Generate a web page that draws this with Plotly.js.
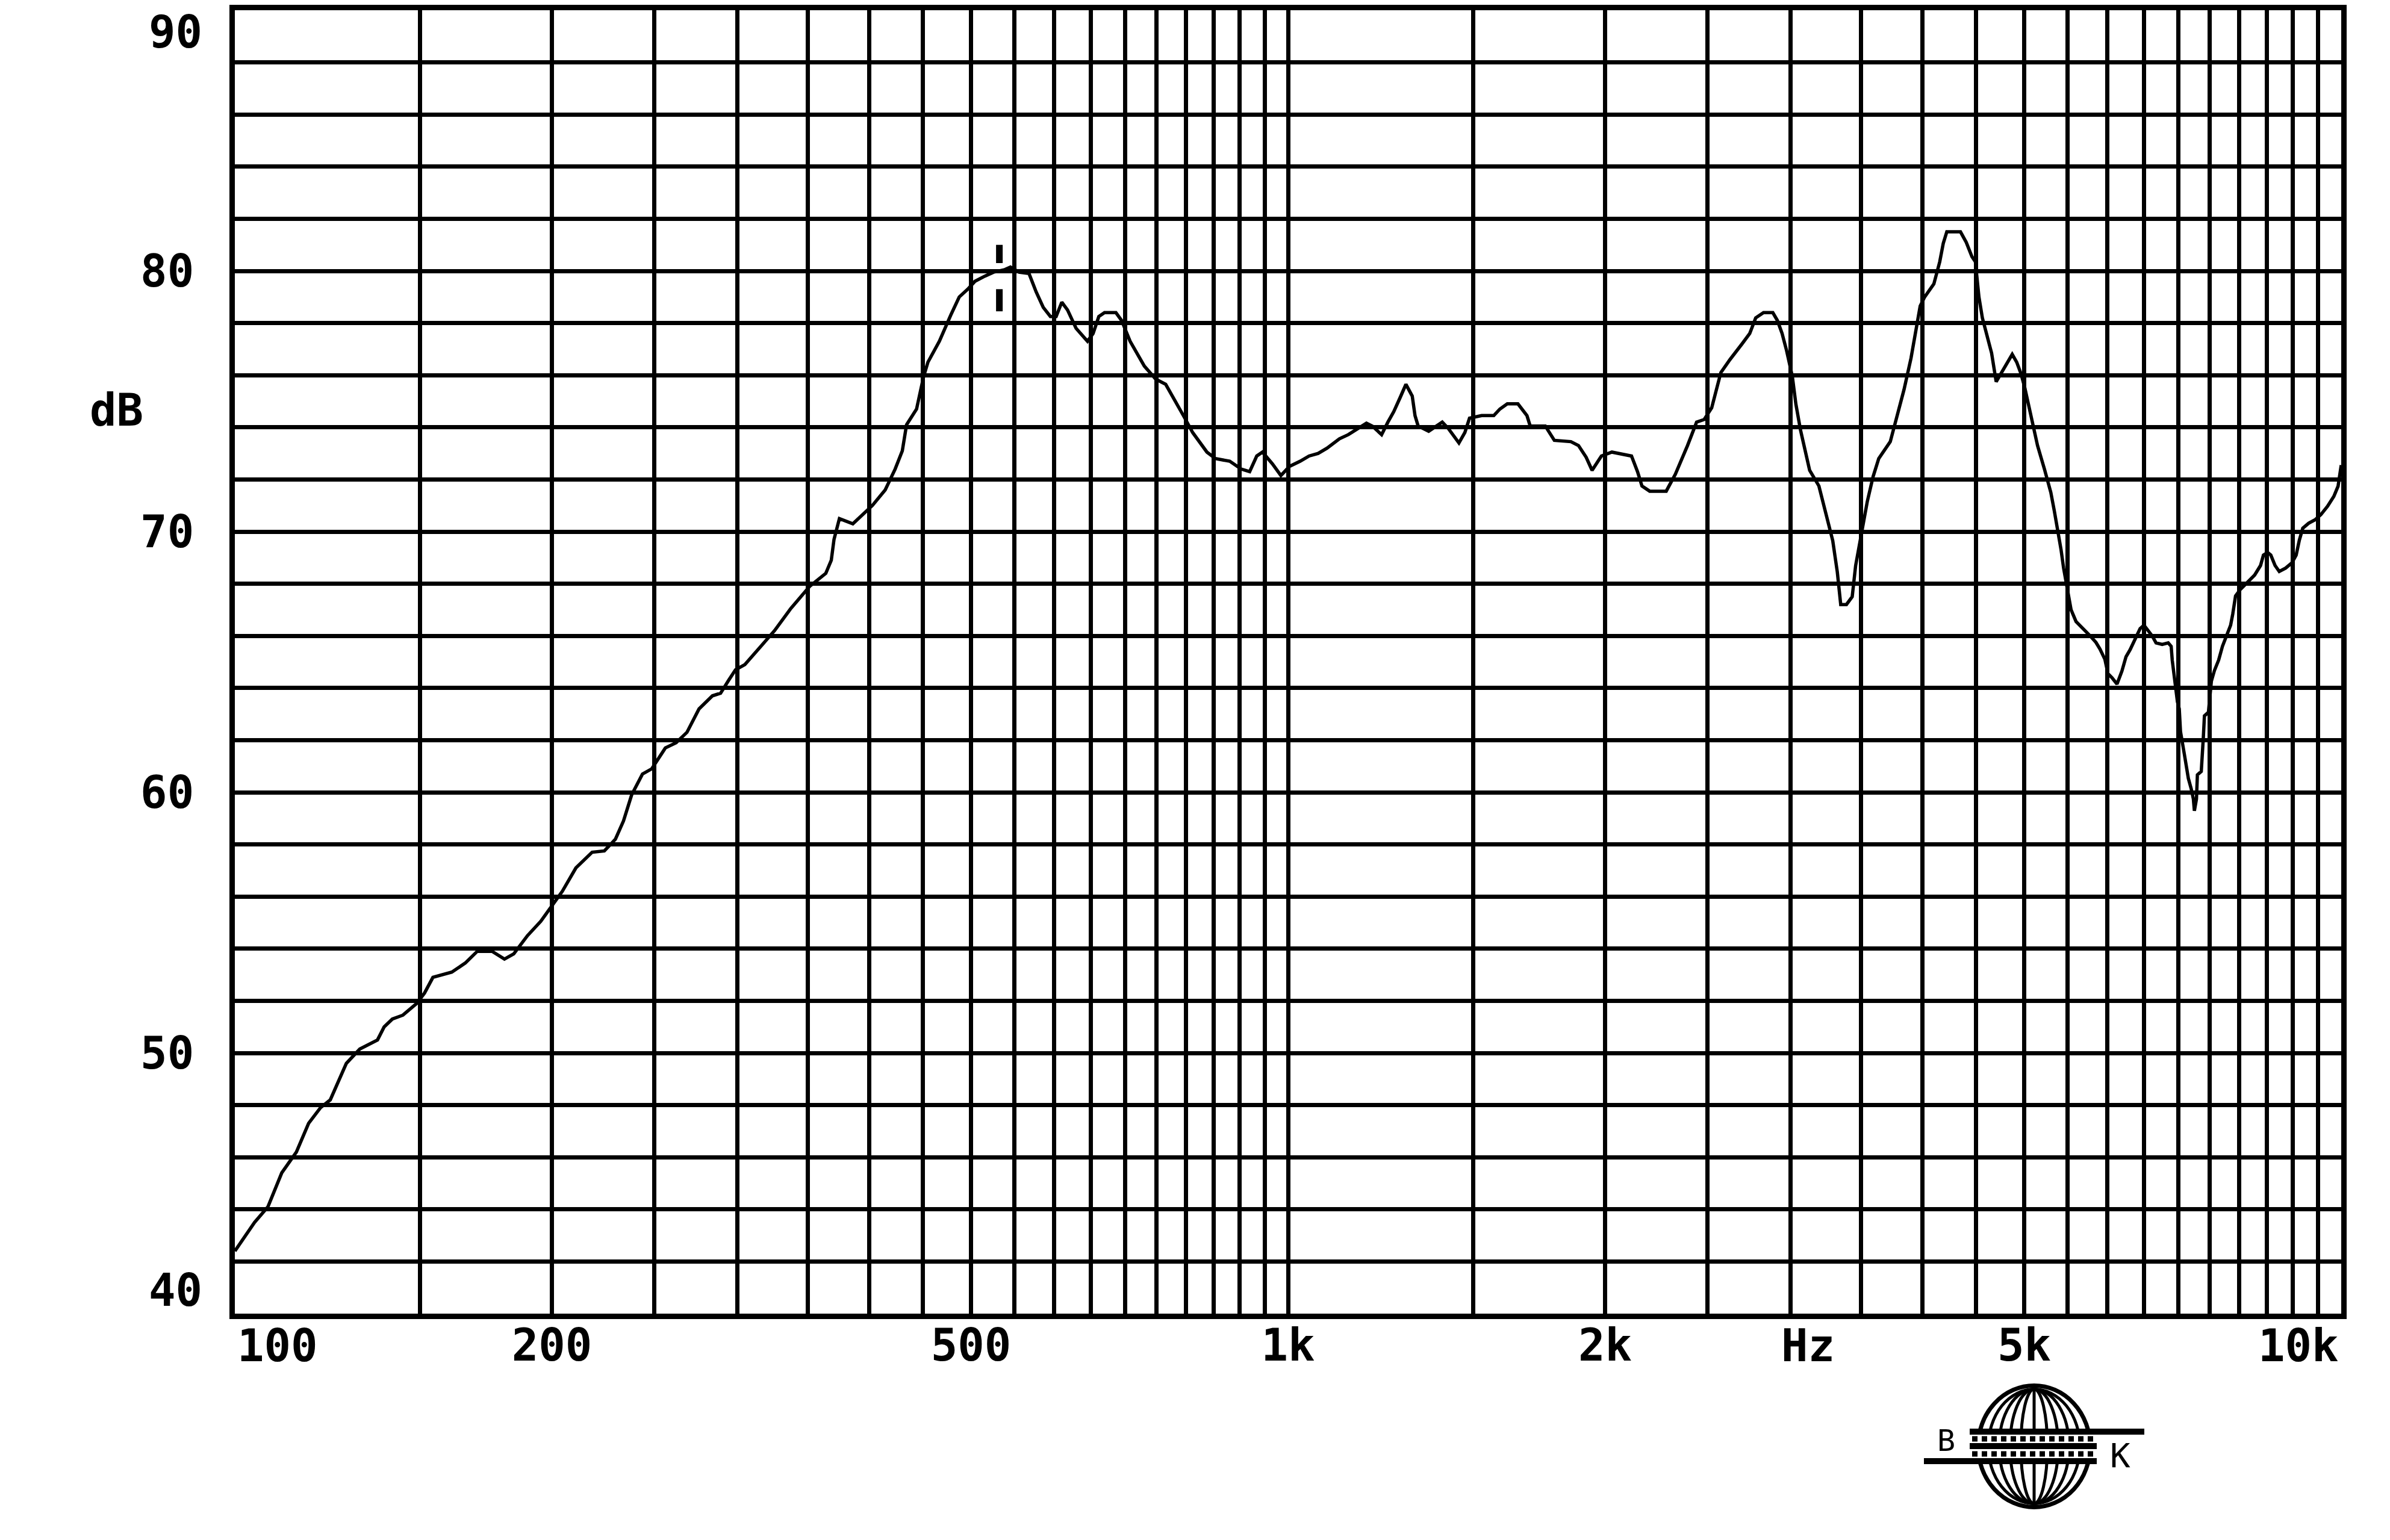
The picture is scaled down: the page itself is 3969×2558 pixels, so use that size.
<!DOCTYPE html>
<html>
<head>
<meta charset="utf-8">
<script src="https://cdn.plot.ly/plotly-3.0.1.min.js"></script>
<style>
  html, body { margin: 0; padding: 0; background: #ffffff; }
  #chart { width: 3969px; height: 2558px; }
</style>
</head>
<body>
<div id="chart"></div>
<script>
// ---- Data (frequency response, dB vs Hz) ----
const freqHz = [
  100, 104.4, 107.5, 110.8, 114.4, 117.5, 120.6, 123.2, 127.6, 131.4,
  136.6, 138.6, 141.1, 144.4, 148.8, 151.4, 154.2, 160.7, 165.5, 169.9,
  175.5, 180.3, 184.0, 189.6, 195.2, 199.8, 204.6, 210.8, 218.4, 224.3,
  229.8, 233.9, 238.1, 243.8, 248.8, 256.3, 262.4, 268.7, 275.9, 284.1,
  289.2, 294.4, 298.8, 305, 314.1, 325.4, 337.2, 351.4, 364, 368.4,
  370.6, 375, 386.2, 393, 403, 414.5, 423.6, 430.3, 434.3, 443.9,
  450.8, 455.1, 466.6, 478.3, 487.3, 496.5, 504.3, 515.4, 525.2, 538.4,
  545.1, 555.4, 567.6, 576.5, 585.6, 594.8, 602.3, 609.8, 617.5, 629.1,
  645, 653, 661.2, 669.5, 686.4, 695, 708, 730.4, 748.8, 765.3,
  782, 796.8, 811.8, 837.5, 853.3, 880.3, 902.5, 919.5, 933.9, 945.6,
  966.4, 984.5, 1003, 1027, 1047, 1068, 1089, 1119, 1141, 1165,
  1187, 1203, 1227, 1244, 1260, 1278, 1294, 1312, 1320, 1329,
  1360, 1401, 1420, 1453, 1472, 1487, 1527, 1568, 1589, 1615,
  1653, 1686, 1698, 1755, 1790, 1856, 1887, 1919, 1944, 1984,
  2030, 2119, 2147, 2168, 2205, 2286, 2332, 2395, 2443, 2484,
  2525, 2576, 2628, 2698, 2744, 2780, 2828, 2886, 2915, 2945,
  2974, 3012, 3035, 3066, 3128, 3192, 3248, 3290, 3323, 3348,
  3390, 3433, 3459, 3503, 3548, 3593, 3638, 3731, 3788, 3845,
  3904, 3943, 3983, 4022, 4104, 4157, 4189, 4222, 4350, 4405,
  4460, 4494, 4529, 4563, 4609, 4656, 4703, 4748, 4810, 4871,
  4919, 4966, 5008, 5071, 5148, 5226, 5300, 5340, 5384, 5420,
  5450, 5498, 5540, 5600, 5665, 5760, 5849, 5900, 5965, 6005,
  6057, 6125, 6191, 6247, 6303, 6387, 6442, 6497, 6614, 6671,
  6761, 6851, 6895, 6911, 6942, 6990, 7018, 7037, 7096, 7159,
  7204, 7238, 7254, 7287, 7302, 7364, 7398, 7415, 7480, 7529,
  7579, 7649, 7713, 7780, 7852, 7888, 7937, 8024, 8128, 8275,
  8383, 8436, 8514, 8573, 8653, 8733, 8855, 8978, 9062, 9125,
  9194, 9313, 9442, 9564, 9705, 9840, 9931, 9977, 10000
];
const levelDb = [
  42.4, 43.5, 44.1, 45.4, 46.2, 47.3, 47.9, 48.2, 49.6, 50.15,
  50.5, 51.0, 51.3, 51.45, 51.9, 52.3, 52.9, 53.1, 53.45, 53.9,
  53.9, 53.6, 53.8, 54.5, 55.05, 55.6, 56.2, 57.1, 57.7, 57.75,
  58.2, 58.9, 59.9, 60.7, 60.9, 61.7, 61.9, 62.3, 63.2, 63.7,
  63.8, 64.3, 64.7, 64.9, 65.5, 66.2, 67.05, 67.9, 68.4, 68.9,
  69.7, 70.5, 70.3, 70.6, 71.0, 71.6, 72.4, 73.1, 74.1, 74.7,
  75.95, 76.5, 77.3, 78.3, 79.0, 79.3, 79.6, 79.8, 79.95, 80.05,
  80.15, 79.95, 79.9, 79.2, 78.6, 78.25, 78.25, 78.8, 78.5, 77.8,
  77.3, 77.6, 78.25, 78.4, 78.4, 78.1, 77.3, 76.35, 75.85, 75.65,
  75.0, 74.4, 73.8, 73.05, 72.8, 72.7, 72.4, 72.3, 72.9, 73.05,
  72.6, 72.15, 72.5, 72.7, 72.9, 73.0, 73.2, 73.56, 73.72, 73.96,
  74.16, 74.04, 73.72, 74.2, 74.6, 75.15, 75.65, 75.2, 74.45, 74.05,
  73.85, 74.2, 73.95, 73.4, 73.8, 74.35, 74.45, 74.45, 74.7, 74.9,
  74.9, 74.45, 74.05, 74.05, 73.5, 73.45, 73.3, 72.85, 72.35, 72.9,
  73.05, 72.9, 72.3, 71.75, 71.55, 71.55, 72.2, 73.3, 74.2, 74.3,
  74.75, 76.1, 76.6, 77.2, 77.6, 78.2, 78.4, 78.4, 78.1, 77.6,
  76.95, 75.95, 74.9, 73.9, 72.35, 71.75, 70.6, 69.65, 68.45, 67.2,
  67.2, 67.5, 68.7, 70.0, 71.15, 72.1, 72.8, 73.45, 74.4, 75.45,
  76.65, 77.7, 78.65, 79.0, 79.5, 80.35, 81.05, 81.5, 81.5, 81.1,
  80.55, 80.35, 79.0, 78.2, 77.5, 76.85, 75.75, 76.05, 76.4, 76.8,
  76.5, 76.05, 75.5, 74.5, 73.3, 72.4, 71.5, 70.8, 70.0, 69.3,
  68.6, 67.65, 67.0, 66.55, 66.35, 66.05, 65.75, 65.5, 65.1, 64.55,
  64.4, 64.15, 64.65, 65.2, 65.47, 65.93, 66.28, 66.41, 66.0, 65.73,
  65.67, 65.73, 65.6, 65.07, 64.4, 63.47, 63.2, 62.33, 61.47, 60.53,
  60.13, 59.74, 59.29, 59.74, 60.67, 60.8, 62.13, 62.93, 63.07, 64.27,
  64.67, 65.07, 65.6, 66.0, 66.41, 66.83, 67.53, 67.79, 68.0, 68.33,
  68.7, 69.1, 69.2, 69.1, 68.7, 68.47, 68.6, 68.8, 69.1, 69.67,
  70.13, 70.32, 70.45, 70.65, 70.97, 71.35, 71.74, 72.4, 72.55
];

// Cursor mark ("I") near the main peak
const cursorHz = 532;
const cursorDb = [81.0, 80.3, 79.3, 78.45];

// Axis labels
const xLabelHz   = [200, 500, 1000, 2000, 5000];
const xLabelText = ['200', '500', '1k', '2k', '5k'];
const yLabelDb   = [50, 60, 70, 80];
const yLabelText = ['50', '60', '70', '80'];
const yRangeDb = [40, 90];
const xRangeHz = [100, 10000];

// ---- Grid positions (chart paper: 50 Hz steps to 1 kHz, 500 Hz steps above; 2 dB steps) ----
const xGridHz = [];
for (let f = 100; f <= 1000; f += 50) xGridHz.push(f);
for (let f = 1500; f <= 10000; f += 500) xGridHz.push(f);
const yGridDb = [];
for (let d = yRangeDb[0]; d <= yRangeDb[1]; d += 2) yGridDb.push(d);

const xTickText = xGridHz.map(f => {
  const i = xLabelHz.indexOf(f);
  return i >= 0 ? xLabelText[i] : '';
});
const yTickText = yGridDb.map(d => {
  const i = yLabelDb.indexOf(d);
  return i >= 0 ? yLabelText[i] : '';
});

const FONT = 'DejaVu Sans Mono, Liberation Mono, monospace';
const labelFont = { family: FONT, size: 74, color: '#000', weight: 'bold' };

const traces = [
  {
    type: 'scatter', mode: 'lines',
    x: freqHz, y: levelDb,
    line: { color: '#000', width: 5.5, shape: 'linear' },
    hoverinfo: 'skip', showlegend: false
  },
  {
    type: 'scatter', mode: 'lines',
    x: [cursorHz, cursorHz, null, cursorHz, cursorHz],
    y: [cursorDb[0], cursorDb[1], null, cursorDb[2], cursorDb[3]],
    line: { color: '#000', width: 11 },
    hoverinfo: 'skip', showlegend: false
  }
];

// paper-coordinate helpers for the logo (plot area: px 390..3888, py 16.5..2182)
const PL = 390, PR = 3888, PT = 16.5, PB = 2182;
const px = v => (v - PL) / (PR - PL);
const py = v => (PB - v) / (PB - PT);

const shapes = [];
// Globe outline + meridians
const gcx = 3378, gcy = 2402.5, grx = 93, gry = 101;
shapes.push({ type: 'circle', xref: 'paper', yref: 'paper',
  x0: px(gcx - grx), x1: px(gcx + grx), y0: py(gcy + gry), y1: py(gcy - gry),
  line: { color: '#000', width: 7 }, fillcolor: 'rgba(0,0,0,0)' });
[76, 58, 40, 22].forEach(r => {
  shapes.push({ type: 'circle', xref: 'paper', yref: 'paper',
    x0: px(gcx - r), x1: px(gcx + r), y0: py(gcy + gry - 6), y1: py(gcy - gry + 6),
    line: { color: '#000', width: 5 }, fillcolor: 'rgba(0,0,0,0)' });
});
shapes.push({ type: 'line', xref: 'paper', yref: 'paper',
  x0: px(gcx), x1: px(gcx), y0: py(gcy + gry - 6), y1: py(gcy - gry + 6),
  line: { color: '#000', width: 5 } });
// Band across the globe
shapes.push({ type: 'rect', xref: 'paper', yref: 'paper',
  x0: px(3271), x1: px(3482), y0: py(2427), y1: py(2378),
  line: { width: 0 }, fillcolor: '#fff' });
shapes.push({ type: 'line', xref: 'paper', yref: 'paper',
  x0: px(3271), x1: px(3561), y0: py(2378), y1: py(2378), line: { color: '#000', width: 10 } });
shapes.push({ type: 'line', xref: 'paper', yref: 'paper',
  x0: px(3271), x1: px(3482), y0: py(2402), y1: py(2402), line: { color: '#000', width: 10 } });
shapes.push({ type: 'line', xref: 'paper', yref: 'paper',
  x0: px(3195), x1: px(3482), y0: py(2427), y1: py(2427), line: { color: '#000', width: 10 } });
[2390, 2415].forEach(yy => {
  shapes.push({ type: 'line', xref: 'paper', yref: 'paper',
    x0: px(3275), x1: px(3480), y0: py(yy), y1: py(yy),
    line: { color: '#000', width: 9, dash: '9px,7px' } });
});

const annotations = [
  // edge tick labels placed inside the frame like the original
  { xref: 'x', yref: 'paper', x: Math.log10(100), y: 0, text: '100',
    xanchor: 'left', yanchor: 'top', xshift: 2, yshift: -8, showarrow: false, font: labelFont },
  { xref: 'x', yref: 'paper', x: Math.log10(3000), y: 0, text: 'Hz',
    xanchor: 'center', yanchor: 'top', xshift: 29, yshift: -8, showarrow: false, font: labelFont },
  { xref: 'x', yref: 'paper', x: Math.log10(10000), y: 0, text: '10k',
    xanchor: 'right', yanchor: 'top', xshift: -2, yshift: -8, showarrow: false, font: labelFont },
  { xref: 'paper', yref: 'y', x: 0, y: 90, text: '90',
    xanchor: 'right', yanchor: 'middle', xshift: -52, yshift: -36, showarrow: false, font: labelFont },
  { xref: 'paper', yref: 'y', x: 0, y: 40, text: '40',
    xanchor: 'right', yanchor: 'middle', xshift: -52, yshift: 39, showarrow: false, font: labelFont },
  { xref: 'paper', yref: 'paper', x: px(193), y: py(681), text: 'dB',
    xanchor: 'center', yanchor: 'middle', showarrow: false, font: labelFont },
  { xref: 'paper', yref: 'paper', x: px(3232), y: py(2393), text: 'B',
    xanchor: 'center', yanchor: 'middle', showarrow: false,
    font: { family: FONT, size: 50, color: '#000' } },
  { xref: 'paper', yref: 'paper', x: px(3521), y: py(2418), text: 'K',
    xanchor: 'center', yanchor: 'middle', showarrow: false,
    font: { family: FONT, size: 56, color: '#000' } }
];

const layout = {
  width: 3969, height: 2558,
  paper_bgcolor: '#fff', plot_bgcolor: '#fff',
  margin: { l: PL, r: 3969 - PR, t: PT, b: 2558 - PB, pad: 0 },
  showlegend: false,
  xaxis: {
    type: 'log',
    range: [Math.log10(xRangeHz[0]), Math.log10(xRangeHz[1])],
    tickmode: 'array', tickvals: xGridHz, ticktext: xTickText,
    ticks: '', ticklabelstandoff: -20,
    tickfont: labelFont,
    showgrid: true, gridcolor: '#000', gridwidth: 7,
    showline: true, linecolor: '#000', linewidth: 9, mirror: true,
    zeroline: false, fixedrange: true
  },
  yaxis: {
    range: yRangeDb,
    tickmode: 'array', tickvals: yGridDb, ticktext: yTickText,
    ticks: '', ticklabelstandoff: 44,
    tickfont: labelFont,
    showgrid: true, gridcolor: '#000', gridwidth: 7,
    showline: true, linecolor: '#000', linewidth: 9, mirror: true,
    zeroline: false, fixedrange: true
  },
  shapes: shapes,
  annotations: annotations
};

Plotly.newPlot('chart', traces, layout, { displayModeBar: false, staticPlot: true });
</script>
</body>
</html>
